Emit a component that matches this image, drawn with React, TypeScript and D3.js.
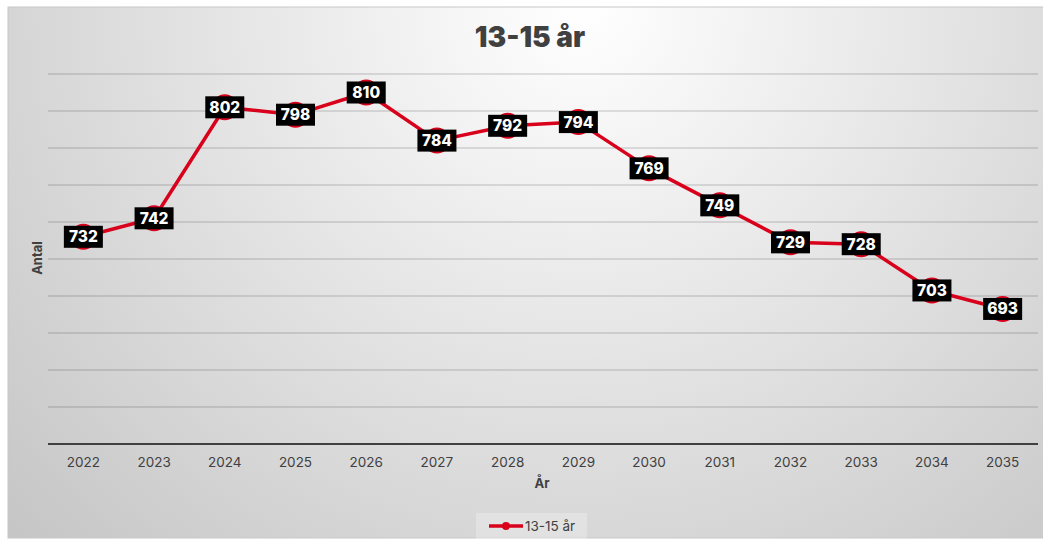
import React from "react";
import * as d3 from "d3";

const years = ["2022","2023","2024","2025","2026","2027","2028","2029","2030","2031","2032","2033","2034","2035"];
const values = [732, 742, 802, 798, 810, 784, 792, 794, 769, 749, 729, 728, 703, 693];
const yTicks = [620, 640, 660, 680, 700, 720, 740, 760, 780, 800, 820];
const seriesName = "13-15 år";
const chartTitle = "13-15 år";
const xTitle = "År";
const yTitle = "Antal";

const W = 1043, H = 545;
const FONT = "Inter, 'Noto Sans', sans-serif";

export default function App() {
  const left = 48, right = 1038, top = 74, bottom = 444;
  const x = d3.scaleBand<string>().domain(years).range([left, right]);
  const y = d3.scaleLinear().domain([620, 820]).range([bottom, top]);
  const cx = (d: string) => (x(d) as number) + x.bandwidth() / 2;
  const line = d3.line<number>().x((_, i) => cx(years[i])).y((v) => y(v));
  return (
    <svg width={W} height={H} style={{ position: "absolute", left: 0, top: 0 }}>
      <defs>
        <radialGradient id="bg" cx="0.55" cy="0" r="0.75" gradientTransform="scale(1,1.9)">
          <stop offset="0" stopColor="#ffffff" />
          <stop offset="1" stopColor="#c6c6c6" />
        </radialGradient>
      </defs>
      <rect x={8} y={7} width={W} height={531} fill="url(#bg)" stroke="#c8c8c8" strokeWidth={1} />
      {yTicks.slice(1).map((t) => (
        <line key={t} x1={left} x2={right} y1={y(t)} y2={y(t)} stroke="rgba(0,0,0,0.22)" strokeWidth={1} />
      ))}
      <line x1={left} x2={right} y1={bottom} y2={bottom} stroke="#404040" strokeWidth={2} />
      {years.map((yr) => (
        <text key={yr} x={cx(yr)} y={467} textAnchor="middle" fontFamily={FONT} fontSize={13.5} fill="#404040">{yr}</text>
      ))}
      <text x={530} y={47} textAnchor="middle" fontFamily={FONT} fontWeight={900} fontSize={28} fill="#404040">{chartTitle}</text>
      <text x={542} y={488} textAnchor="middle" fontFamily={FONT} fontWeight={700} fontSize={13} fill="#404040">{xTitle}</text>
      <text transform="translate(42,258) rotate(-90)" textAnchor="middle" fontFamily={FONT} fontWeight={700} fontSize={13} fill="#404040">{yTitle}</text>
      <path d={line(values) || ""} fill="none" stroke="#d9001b" strokeWidth={3.5} strokeLinejoin="round" />
      {values.map((v, i) => (
        <circle key={"c" + i} cx={cx(years[i])} cy={y(v)} r={13} fill="#d9001b" />
      ))}
      {values.map((v, i) => (
        <g key={"l" + i} transform={`translate(${cx(years[i])},${y(v)})`}>
          <rect x={-19.5} y={-11} width={39} height={22} fill="#000" />
          <text x={0} y={5.5} textAnchor="middle" fontFamily={FONT} fontWeight={800} fontSize={15.5} fill="#fff">{v}</text>
        </g>
      ))}
      <rect x={476} y={513} width={111} height={26} fill="rgba(255,255,255,0.25)" />
      <line x1={489} x2={523} y1={526} y2={526} stroke="#d9001b" strokeWidth={3.5} />
      <circle cx={506} cy={526} r={4} fill="#d9001b" />
      <text x={525} y={531} fontFamily={FONT} fontSize={13.5} fill="#404040">{seriesName}</text>
    </svg>
  );
}
